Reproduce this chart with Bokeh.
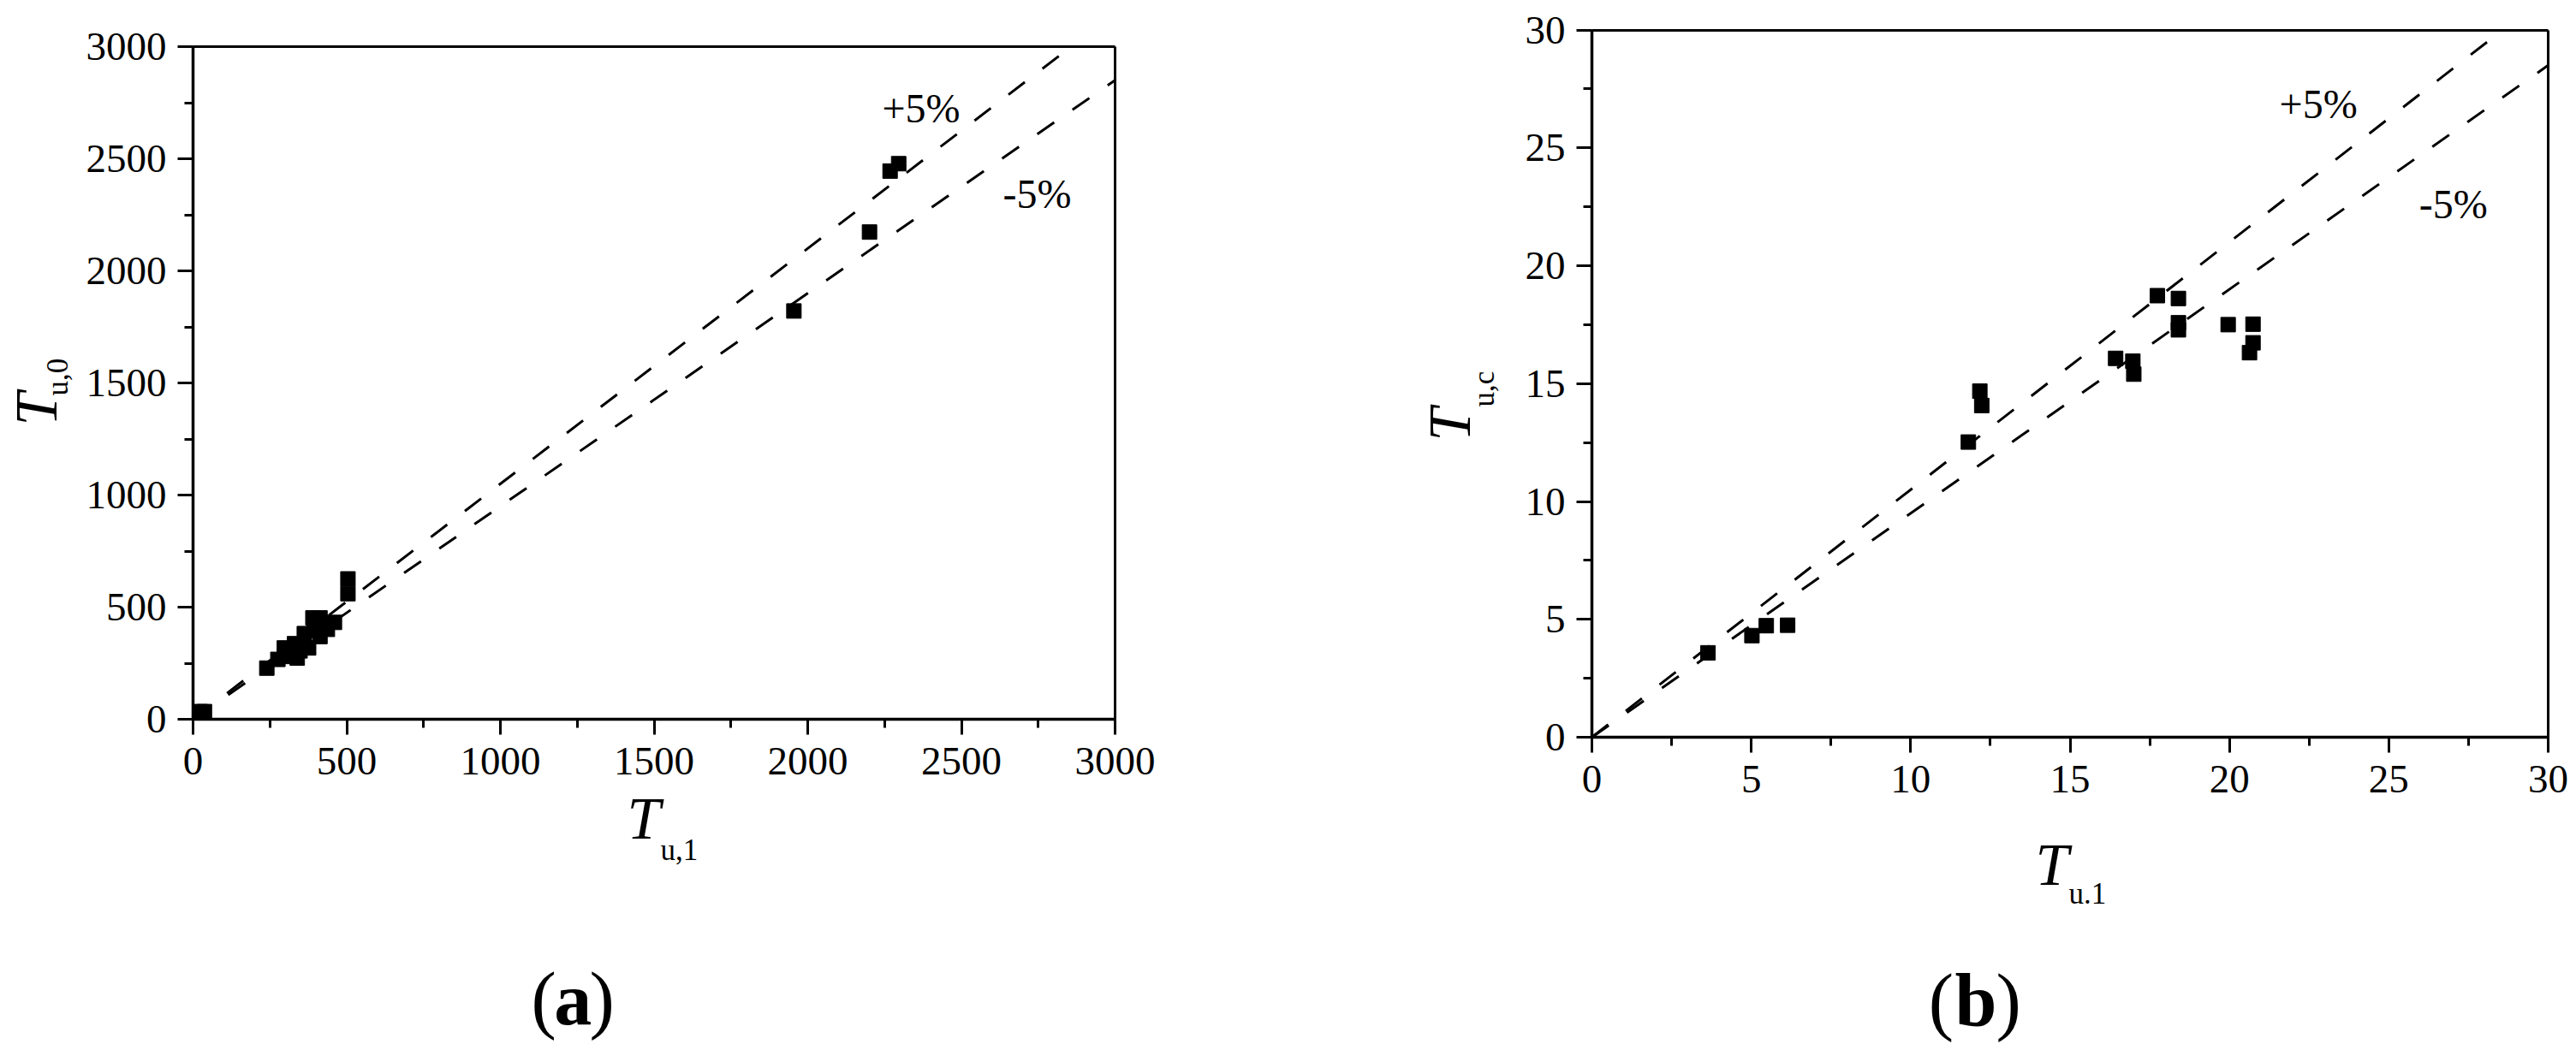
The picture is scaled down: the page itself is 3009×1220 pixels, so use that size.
from bokeh.plotting import figure
from bokeh.layouts import row
from bokeh.models import Range1d, SingleIntervalTicker, FixedTicker, Label, LinearAxis
from bokeh.embed import file_html
from bokeh.resources import INLINE

# ---------------- data ----------------
# panel (a): T_u,1 (x) vs T_u,0 (y)
a_tu1 = [23, 37, 240, 276, 297, 304, 330, 339, 348, 362, 376, 390, 395, 413, 413,
         437, 460, 504, 504, 1955, 2201, 2268, 2296]
a_tu0 = [34, 34, 228, 267, 318, 280, 337, 273, 305, 382, 318, 452, 401, 452, 369,
         401, 432, 560, 626, 1821, 2173, 2445, 2478]

# panel (b): T_u.1 (x) vs T_u,c (y)
b_tu1 = [3.64, 5.02, 5.47, 6.14, 11.81, 12.17, 12.23, 16.43, 16.97, 17.0, 17.74,
         18.4, 18.4, 18.4, 19.96, 20.74, 20.74, 20.63]
b_tuc = [3.58, 4.31, 4.73, 4.75, 12.52, 14.68, 14.07, 16.07, 15.95, 15.4, 18.73,
         18.61, 17.58, 17.28, 17.5, 17.52, 16.73, 16.31]

band_factors = [1.05, 0.95]          # +5% and -5% lines
band_labels = ["+5%", "-5%"]
a_max = 3000
b_max = 30
a_interval = 500
b_interval = 5

SERIF = "Liberation Serif"
W, H = 1500, 1220
BASE_FIX = 0.25   # em correction of the rendered baseline


def make_fig(vmax, px0, px1, py0, py1):
    """Figure whose frame fills the canvas; px0/px1 = canvas x of 0/vmax,
    py0/py1 = canvas y of 0/vmax."""
    sx = (px1 - px0) / vmax
    sy = (py0 - py1) / vmax
    xr = Range1d(-px0 / sx, vmax + (W - px1) / sx)
    yr = Range1d(-(H - py0) / sy, vmax + py1 / sy)
    p = figure(frame_width=W, frame_height=H, min_border=0,
               x_range=xr, y_range=yr,
               output_backend="svg", toolbar_location=None)
    p.grid.visible = False
    p.outline_line_color = None
    p.background_fill_color = "white"
    p.border_fill_color = "white"
    return p


def style(p, vmax, interval):
    for ax in (p.xaxis[0], p.yaxis[0]):
        ax.fixed_location = 0
        ax.bounds = (0, vmax)
        ax.ticker = SingleIntervalTicker(interval=interval, num_minor_ticks=2)
        ax.axis_line_width = 3.5
        ax.axis_line_color = "black"
        ax.major_tick_line_width = 3
        ax.minor_tick_line_width = 3
        ax.major_tick_line_color = "black"
        ax.minor_tick_line_color = "black"
        ax.major_tick_out = 18
        ax.major_tick_in = 0
        ax.minor_tick_out = 10
        ax.minor_tick_in = 0
        ax.major_label_text_font = SERIF
        ax.major_label_text_font_size = "47px"
        ax.major_label_text_color = "black"
    p.xaxis.major_label_standoff = 15
    p.yaxis.major_label_standoff = 13
    # closing box lines (top and right) as bare axes
    for side in ("above", "right"):
        ax = LinearAxis(fixed_location=vmax, bounds=(0, vmax),
                        ticker=FixedTicker(ticks=[]),
                        axis_line_width=3, axis_line_color="black",
                        major_tick_line_color=None, minor_tick_line_color=None)
        p.add_layout(ax, side)


def lab(p, x, y, text, size, style="normal", angle=0):
    fix = BASE_FIX * size
    xo, yo = (-fix, 0) if angle else (0, fix)
    p.add_layout(Label(x=x, y=y, x_offset=xo, y_offset=yo, text=text,
                       text_font=SERIF, text_font_size=f"{size}px",
                       text_font_style=style, text_color="black",
                       text_baseline="alphabetic", text_align="left",
                       angle=angle, angle_units="deg"))


def bands(p, vmax):
    for f in band_factors:
        xs = [0, min(vmax, vmax / f)]
        p.line(xs, [f * v for v in xs], line_color="black", line_width=3,
               line_dash="24 26")


# ---------------- panel (a) ----------------
p1 = make_fig(a_max, 225, 1302, 840, 54)
style(p1, a_max, a_interval)
bands(p1, a_max)
p1.scatter(a_tu1, a_tu0, marker="square", size=17, color="black")

lab(p1, 2242, 2679, band_labels[0], 48)
lab(p1, 2635, 2298, band_labels[1], 48)
lab(p1, 1412, -508, "T", 70, "italic")
lab(p1, 1521, -618, "u,1", 35)
lab(p1, -460, 1309, "T", 70, "italic", 90)
lab(p1, -415, 1443, "u,0", 35, "normal", 90)
lab(p1, 1100, -1332, "(", 88)
lab(p1, 1175, -1332, "a", 88, "bold")
lab(p1, 1290, -1332, ")", 88)

# ---------------- panel (b) ----------------
p2 = make_fig(b_max, 1859 - W, 2976 - W, 861, 34.5)
style(p2, b_max, b_interval)
bands(p2, b_max)
p2.scatter(b_tu1, b_tuc, marker="square", size=17, color="black")

lab(p2, 21.57, 26.42, band_labels[0], 48)
lab(p2, 25.95, 22.18, band_labels[1], 48)
lab(p2, 13.91, -6.03, "T", 70, "italic")
lab(p2, 14.96, -6.97, "u.1", 35)
lab(p2, -4.00, 12.56, "T", 70, "italic", 90)
lab(p2, -3.14, 14.01, "u,c", 35, "normal", 90)
lab(p2, 10.56, -11.97, "(", 88)
lab(p2, 11.39, -11.97, "b", 88, "bold")
lab(p2, 12.68, -11.97, ")", 88)

layout = row(p1, p2)
open("out.html", "w").write(file_html(layout, INLINE))
